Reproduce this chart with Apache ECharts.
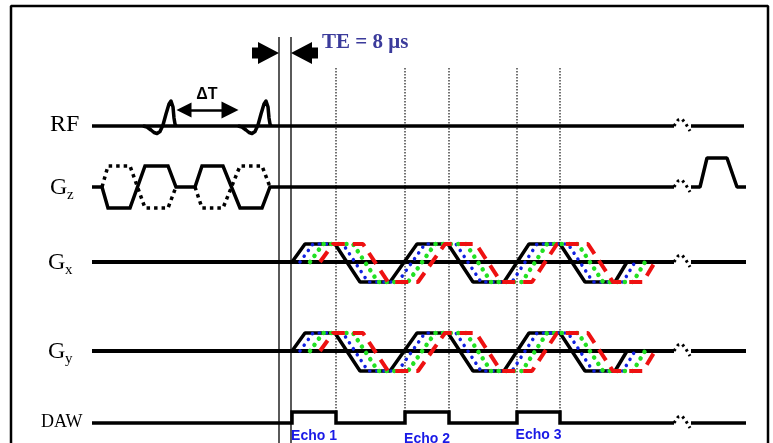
<!DOCTYPE html>
<html><head><meta charset="utf-8">
<script src="https://cdn.jsdelivr.net/npm/echarts@6/dist/echarts.min.js"></script>
<style>html,body{margin:0;padding:0;background:#fff}#c{width:773px;height:443px}</style>
</head><body><div id="c"></div>
<script>
// ---------------- data (time units, amplitudes) ----------------
const channelNames = ['RF', 'Gz', 'Gx', 'Gy', 'DAW'];
const channelSubs = ['', 'z', 'x', 'y', ''];
const sequenceStart = 92;
const breakStart = 674;
const breakEnd = 690;
const sequenceEnd = [744, 746, 746, 746, 746];

// RF: two sinc-like pulses separated by ΔT
const rfPulseStarts = [143, 238];
const rfPulseShape = [[0,0],[4,-1],[8,-4],[11,-6.5],[14,-7.5],[17,-5.5],[20,1],[23,12],[26,22],[28,25],[30,19],[31,8],[32,2],[33,0]];
const deltaT = [176, 238];

// Gz: bipolar gradients (solid) and their inverted alternative (dotted)
const gzSolid = [[102,0],[108,-21],[130,-21],[145,21],[168,21],[176,0],[195,0],[202,21],[223,21],[240,-21],[262,-21],[270,0]];
const gzDotted = [
  [[102,0],[108,21],[130,21],[145,-21],[168,-21],[176,0]],
  [[195,0],[202,-21],[223,-21],[240,21],[262,21],[270,0]]
];
const gzSpoiler = [[700,0],[707,29],[727,29],[737,0]];

// Gx / Gy readout gradient waveform and delayed copies
const gradWave = [[292,0],[305,18],[335,18],[360,-20],[390,-20],[417,18],[448,18],[473,-20],[504,-20],[529,18],[560,18],[585,-20],[615,-20],[627,0]];
const gradDelayNames = ['blue', 'green', 'red'];
const gradDelays = [8, 18, 28];

// DAW acquisition windows
const echoNames = ['Echo 1', 'Echo 2', 'Echo 3'];
const echoWindows = [[292,336],[405,449],[517,560]];
const dawHeight = 11;

// TE markers and echo markers
const teLines = [279, 291];
const teLabel = 'TE = 8 μs';
const echoMarkers = [336, 405, 449, 517, 560];

// ---------------- layout ----------------
const baseY = [126, 187, 262, 351, 423];
const breakShape = [[0,0],[4,6],[8,7],[12,2],[16,-5]];

const toXY = (pts, b) => pts.map(p => [p[0], b - p[1]]);
const series = [];
function addLine(data, ls, z) {
  series.push({ type: 'line', data, symbol: 'none', showSymbol: false, silent: true, animation: false, z: z || 2,
    sampling: null, clip: false,
    lineStyle: Object.assign({ color: '#000', width: 3.5, type: 'solid' }, ls) });
}

// frame
addLine([[11,460],[11,6],[768,6],[768,460]], { width: 2.5 }, 1);

channelNames.forEach((name, i) => {
  const b = baseY[i];
  const w = (name === 'Gx' || name === 'Gy') ? 4 : 3.5;
  let main;
  if (name === 'RF') {
    main = [[sequenceStart, 0], [breakStart, 0]];
    rfPulseStarts.forEach(s => addLine(toXY(rfPulseShape.map(p => [s + p[0], p[1]]), b), { width: 3.5, join: 'round' }, 3));
  } else if (name === 'Gz') {
    main = [[sequenceStart, 0]].concat(gzSolid, [[breakStart, 0]]);
  } else if (name === 'DAW') {
    main = [[sequenceStart, 0]];
    echoWindows.forEach(wd => { main.push([wd[0],0],[wd[0],dawHeight],[wd[1],dawHeight],[wd[1],0]); });
    main.push([breakStart, 0]);
  } else {
    main = [[sequenceStart, 0], [breakStart, 0]];
  }
  addLine(toXY(main, b), { width: w, join: 'miter' }, 2);
  // break mark
  addLine(toXY(breakShape.map(p => [breakStart + p[0], p[1]]), b), { width: 3, type: [2.5, 3.5] }, 2);
  // tail
  let tail = [[breakEnd + 1, 0]];
  if (name === 'Gz') tail = tail.concat(gzSpoiler);
  tail.push([sequenceEnd[i], 0]);
  addLine(toXY(tail, b), { width: w }, 2);

  if (name === 'Gz') {
    gzDotted.forEach(d => addLine(toXY(d, b), { width: 3.5, type: [3.5, 4] }, 2));
  }
  if (name === 'Gx' || name === 'Gy') {
    addLine(toXY(gradWave, b), { width: 3.5 }, 3);
    const styles = {
      blue: { color: '#1020e0', width: 3.5, type: [0.1, 7], cap: 'round' },
      green: { color: '#22e022', width: 4.5, type: [0.1, 7.5], cap: 'round' },
      red: { color: '#ee1111', width: 4, type: [13, 8], cap: 'butt' }
    };
    gradDelayNames.forEach((n, k) => {
      addLine(toXY(gradWave.map(p => [p[0] + gradDelays[k], p[1]]), b), styles[n], 4 + k);
    });
  }
});

// TE vertical lines
teLines.forEach(x => addLine([[x, 37], [x, 460]], { width: 1.3 }, 6));
// echo dotted markers
echoMarkers.forEach(x => addLine([[x, 68], [x, baseY[4] - dawHeight]], { width: 1.1, type: [1.5, 1.5] }, 1));

// ΔT arrow
series.push({ type: 'lines', coordinateSystem: 'cartesian2d', silent: true, animation: false, z: 6,
  symbol: ['triangle', 'triangle'], symbolSize: [15, 17],
  lineStyle: { color: '#000', width: 2.5, opacity: 1 },
  data: [{ coords: [[deltaT[0] + 8, 110], [deltaT[1] - 8, 110]] }] });

// TE arrows
series.push({ type: 'scatter', silent: true, animation: false, z: 6, itemStyle: { color: '#000', opacity: 1 },
  data: [
    { value: [teLines[0] - 13.5, 53], symbol: 'path://M0,5.5 L6,5.5 L6,0 L27,11 L6,22 L6,16.5 L0,16.5 Z', symbolSize: [27, 22] },
    { value: [teLines[1] + 13.5, 53], symbol: 'path://M27,5.5 L21,5.5 L21,0 L0,11 L21,22 L21,16.5 L27,16.5 Z', symbolSize: [27, 22] }
  ] });

const chart = echarts.init(document.getElementById('c'), null, { renderer: 'canvas' });
chart.setOption({
  animation: false,
  backgroundColor: '#fff',
  grid: { left: 0, right: 0, top: 0, bottom: 0, containLabel: false },
  xAxis: { type: 'value', min: 0, max: 773, show: false },
  yAxis: { type: 'value', min: 0, max: 443, inverse: true, show: false },
  series
});

const px = (x, y) => chart.convertToPixel({ gridIndex: 0 }, [x, y]);
const graphics = [];
function txt(x, y, text, style) {
  const p = px(x, y);
  graphics.push({ type: 'text', x: p[0], y: p[1], z: 100, silent: true,
    style: Object.assign({ text, fill: '#000', verticalAlign: 'middle', align: 'left' }, style) });
}
const serif = '"Liberation Serif", "Times New Roman", serif';
const sans = '"Liberation Sans", Arial, sans-serif';
const labelPos = [[50,125],[50,188],[48,263],[48,352],[41,422]];
channelNames.forEach((n, i) => {
  const main = n === 'RF' ? 'RF' : (n === 'DAW' ? 'DAW' : 'G');
  const fs = n === 'DAW' ? 18 : 24;
  txt(labelPos[i][0], labelPos[i][1], main, { fontFamily: serif, fontSize: fs });
  if (channelSubs[i]) txt(labelPos[i][0] + 17, labelPos[i][1] + 7, channelSubs[i], { fontFamily: serif, fontSize: 15 });
});
txt(322, 43, teLabel, { fontFamily: serif, fontSize: 21, fontWeight: 'bold', fill: '#3b3b9b' });
txt((deltaT[0] + deltaT[1]) / 2, 95, 'ΔT', { fontFamily: sans, fontSize: 16, fontWeight: 'bold', align: 'center' });
const echoY = [436, 439, 435];
echoNames.forEach((n, k) => {
  txt((echoWindows[k][0] + echoWindows[k][1]) / 2, echoY[k], n, { fontFamily: sans, fontSize: 14, fontWeight: 'bold', fill: '#1a1ae6', align: 'center' });
});
chart.setOption({ graphic: graphics });
</script>
</body></html>
